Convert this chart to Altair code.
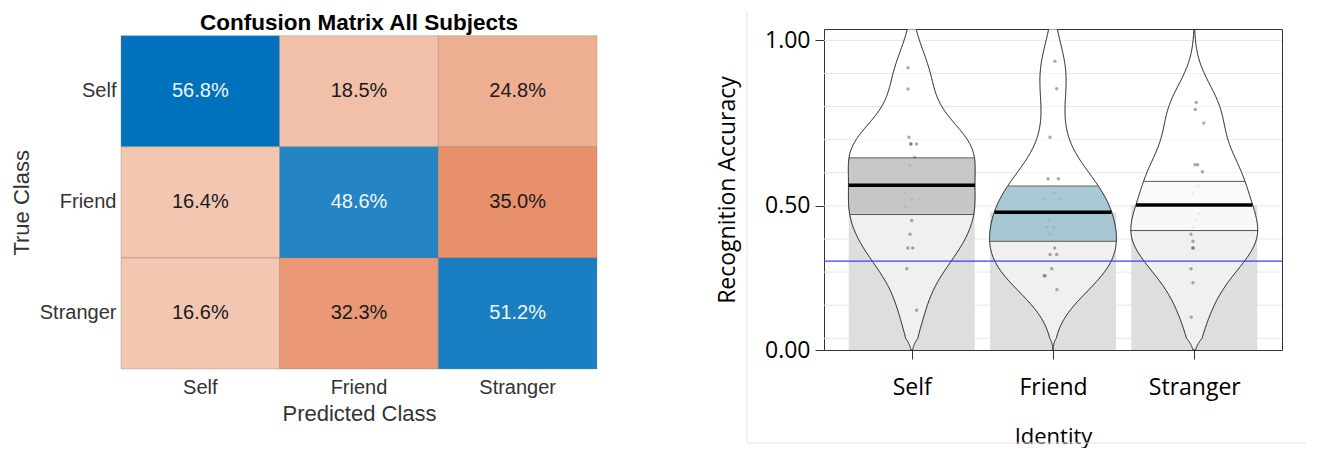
import altair as alt
import pandas as pd

# ---------------- data ----------------
classes = ["Self", "Friend", "Stranger"]

# confusion matrix (rows = true class, columns = predicted class), percent
cm_self = [56.8, 18.5, 24.8]
cm_friend = [16.4, 48.6, 35.0]
cm_stranger = [16.6, 32.3, 51.2]

# pirate plot: per-subject recognition accuracy and horizontal jitter (fraction of a category step)
self_acc = [0.917, 0.853, 0.707, 0.687, 0.687, 0.687, 0.646, 0.623, 0.540,
            0.519, 0.519, 0.498, 0.456, 0.414, 0.373, 0.373, 0.310, 0.185]
self_jit = [-0.026, -0.026, -0.019, -0.007, -0.005, 0.033, 0.021, -0.014, -0.050,
            -0.003, 0.052, -0.047, 0.000, -0.012, -0.028, 0.007, -0.035, 0.035]
friend_acc = [0.937, 0.854, 0.707, 0.582, 0.582, 0.540, 0.519, 0.519, 0.456, 0.436,
              0.436, 0.414, 0.373, 0.353, 0.353, 0.310, 0.289, 0.289, 0.247]
friend_jit = [0.014, 0.026, -0.021, -0.035, 0.038, 0.007, -0.057, 0.054, -0.026, -0.045,
              0.005, -0.021, 0.012, -0.021, 0.026, -0.009, -0.062, -0.056, 0.028]
stranger_acc = [0.812, 0.791, 0.750, 0.624, 0.624, 0.603, 0.560, 0.540, 0.477,
                0.456, 0.436, 0.414, 0.393, 0.373, 0.373, 0.310, 0.268, 0.164]
stranger_jit = [0.014, 0.007, 0.067, 0.005, 0.024, 0.057, 0.028, -0.014, 0.033,
                0.014, -0.009, -0.023, -0.009, -0.012, -0.006, -0.023, -0.009, -0.021]

means = [0.562, 0.481, 0.503]       # average line (and bar height)
hdi_lo = [0.474, 0.393, 0.4255]     # inference band lower bound
hdi_hi = [0.645, 0.560, 0.574]      # inference band upper bound
chance = [1 / 3]                    # chance level line
grid_levels = [0.1, 0.2, 0.3, 0.4, 0.5, 0.6, 0.7, 0.8, 0.9, 1.0]
y_ticks = [0.0, 0.5, 1.0]

# ---------------- tables ----------------
cm_rows = []
for t, row in zip(classes, [cm_self, cm_friend, cm_stranger]):
    for p, v in zip(classes, row):
        cm_rows.append({"true": t, "pred": p, "pct": v})
cm_df = pd.DataFrame(cm_rows)
vmax = float(cm_df["pct"].max())

pts = []
for g, accs, jits in zip(classes, [self_acc, friend_acc, stranger_acc],
                         [self_jit, friend_jit, stranger_jit]):
    for a, j in zip(accs, jits):
        pts.append({"group": g, "acc": a, "jit": j})
pts_df = pd.DataFrame(pts)
sum_df = pd.DataFrame({"group": classes, "mean": means, "lo": hdi_lo, "hi": hdi_hi})
grid_df = pd.DataFrame({"g": grid_levels})
chance_df = pd.DataFrame({"c": chance})

# ---------------- left: confusion matrix ----------------
LFONT = "Liberation Sans"
TXT = "#333333"

base_cm = alt.Chart(cm_df).transform_calculate(
    diag="datum.true === datum.pred",
    score="datum.true === datum.pred ? datum.pct : -datum.pct",
    label="format(datum.pct, '.1f') + '%'",
)
xcm = alt.X("pred:N", sort=classes,
            scale=alt.Scale(paddingInner=0, paddingOuter=0),
            axis=alt.Axis(orient="bottom", labelFont=LFONT, labelFontSize=20, labelColor=TXT,
                          labelPadding=8, ticks=False, domain=False, labelAngle=0,
                          title="Predicted Class", titleFont=LFONT, titleFontSize=22,
                          titleFontWeight="normal", titleColor=TXT, titlePadding=6))
ycm = alt.Y("true:N", sort=classes,
            scale=alt.Scale(paddingInner=0, paddingOuter=0, range=[6.7, 340]),
            axis=alt.Axis(labelFont=LFONT, labelFontSize=20, labelColor=TXT, labelPadding=5,
                          ticks=False, domain=False,
                          title="True Class", titleFont=LFONT, titleFontSize=22,
                          titleFontWeight="normal", titleColor=TXT, titlePadding=6))
cells = base_cm.mark_rect(stroke="#7f7f7f", strokeOpacity=0.35, strokeWidth=1).encode(
    x=xcm, y=ycm,
    color=alt.Color("score:Q", legend=None,
                    scale=alt.Scale(domain=[-vmax, 0, vmax], interpolate="rgb",
                                    range=["#DB5117", "#FDF6F0", "#0072BD"])),
)
cell_text = base_cm.mark_text(font=LFONT, fontSize=20).encode(
    x=xcm, y=ycm, text="label:N",
    color=alt.condition("datum.diag", alt.value("#F4F4F4"), alt.value("#1A1A1A")),
)
left = alt.layer(cells, cell_text).properties(
    width=476, height=340,
    title=alt.TitleParams("Confusion Matrix All Subjects", font=LFONT, fontSize=22.5,
                          fontWeight="bold", color="#000000", anchor="middle", offset=-5),
)

# ---------------- right: pirate plot ----------------
RFONT = "Open Sans"
idx_expr = "indexof(" + str(classes) + ", datum.group) + 1"
label_expr = str(classes) + "[datum.value - 1]"

yscale = alt.Scale(domain=[0, 0.1, 1.0343], range=[321, 309.3, 0], nice=False, zero=False)
xscale = alt.Scale(domain=[0.379, 3.621], nice=False, zero=False)
yaxis = alt.Axis(values=y_ticks, format=".2f", grid=False, domain=False, tickSize=9,
                 tickColor="#333333", labelFont=RFONT, labelFontSize=23, labelColor="#000000",
                 labelPadding=5, title="Recognition Accuracy", titleFont=RFONT,
                 titleFontSize=23, titleFontWeight="normal", titleColor="#000000",
                 titlePadding=25)
xaxis = alt.Axis(values=[1, 2, 3], labelExpr=label_expr, grid=False, domain=False, tickSize=9,
                 tickColor="#333333", labelFont=RFONT, labelFontSize=23, labelColor="#000000",
                 labelPadding=17, labelAngle=0, title="Identity", titleFont=RFONT,
                 titleFontSize=22, titleFontWeight="normal", titleColor="#000000",
                 titlePadding=27)


def Y(f):
    return alt.Y(f, scale=yscale, axis=yaxis, title="Recognition Accuracy")


def X(f):
    return alt.X(f, scale=xscale, axis=xaxis, title="Identity")


grid = alt.Chart(grid_df).mark_rule(color="#E6E6E6", strokeWidth=1).encode(y=Y("g:Q"))

bars = alt.Chart(sum_df).transform_calculate(
    idx=idx_expr, bl="datum.idx - 0.446", br="datum.idx + 0.446"
).mark_rect(color="#DEDEDE").encode(x=X("bl:Q"), x2="br:Q", y=Y("mean:Q"), y2=alt.datum(0))

dens = alt.Chart(pts_df).transform_density(
    "acc", groupby=["group"], bandwidth=0.085, extent=[0, 1.1], steps=441, as_=["acc", "dens"]
).transform_joinaggregate(
    maxd="max(dens)", groupby=["group"]
).transform_lookup(
    lookup="group", from_=alt.LookupData(sum_df, "group", ["mean", "lo", "hi"])
).transform_calculate(
    idx=idx_expr,
    half="datum.dens / datum.maxd * 0.449",
    left="datum.idx - datum.half",
    right="datum.idx + datum.half",
)

bean = dens.mark_area(orient="horizontal", fill="white", fillOpacity=0.55, clip=True).encode(
    y=Y("acc:Q"), x=X("left:Q"), x2="right:Q", detail="group:N")

points = alt.Chart(pts_df).transform_calculate(
    idx=idx_expr, px="datum.idx + datum.jit"
).mark_circle(size=12, color="#555555", opacity=0.5).encode(x=X("px:Q"), y=Y("acc:Q"))

band = dens.transform_filter("datum.acc >= datum.lo && datum.acc <= datum.hi").mark_area(
    orient="horizontal", opacity=0.85, clip=True
).encode(
    y=Y("acc:Q"), x=X("left:Q"), x2="right:Q", detail="group:N",
    color=alt.Color("group:N", legend=None,
                    scale=alt.Scale(domain=classes, range=["#BEBEBE", "#9AC1CE", "#F9F9F9"])),
)

levels = dens.transform_fold(["mean", "lo", "hi"], as_=["lvl", "yv"]).transform_calculate(
    diff="abs(datum.acc - datum.yv)"
).transform_joinaggregate(
    mind="min(diff)", groupby=["group", "lvl"]
).transform_filter("datum.diff === datum.mind")

band_lines = levels.transform_filter("datum.lvl !== 'mean'").mark_rule(
    color="#555555", strokeWidth=1).encode(y=Y("yv:Q"), x=X("left:Q"), x2="right:Q")
mean_lines = levels.transform_filter("datum.lvl === 'mean'").mark_rule(
    color="#000000", strokeWidth=3.5).encode(y=Y("yv:Q"), x=X("left:Q"), x2="right:Q")

outline = dens.mark_area(orient="horizontal", fillOpacity=0, stroke="#1A1A1A",
                         strokeWidth=1, clip=True).encode(
    y=Y("acc:Q"), x=X("left:Q"), x2="right:Q", detail="group:N")

chance_line = alt.Chart(chance_df).mark_rule(color="#3C3CFF", strokeWidth=1.3).encode(
    y=Y("c:Q"))

one = pd.DataFrame({"k": [0]})
border_v = alt.Chart(one).mark_rule(color="#E4E4E4", strokeWidth=1).encode(
    x=alt.value(-77), y=alt.value(-18.5), y2=alt.value(414))
border_h = alt.Chart(one).mark_rule(color="#E4E4E4", strokeWidth=1).encode(
    x=alt.value(-77), x2=alt.value(482), y=alt.value(414))

right = alt.layer(
    grid, bars, bean, points, band, band_lines, mean_lines, outline, chance_line,
    border_v, border_h,
).properties(width=458, height=321,
             view=alt.ViewBackground(stroke="#333333", strokeWidth=1))

chart = alt.hconcat(left, right, spacing=118).configure_view(stroke=None).properties(
    padding={"left": 2, "top": 1, "right": 0, "bottom": 0}
)

chart.save("out.html", embed_options={"renderer": "svg", "actions": False})
